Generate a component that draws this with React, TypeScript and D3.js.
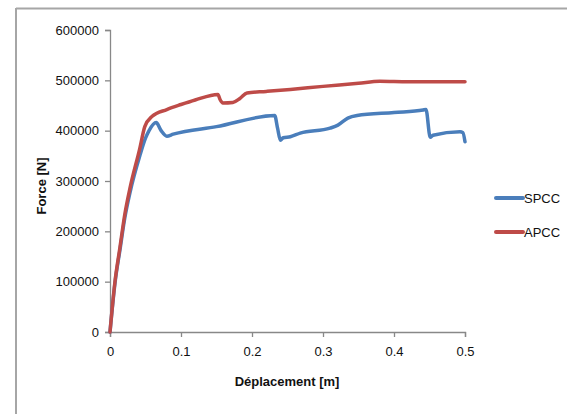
import React, { useEffect, useRef } from 'react';
import * as d3 from 'd3';

// displacement [m], force [N]
const spccX = [0, 0.007, 0.014, 0.021, 0.028, 0.042, 0.05, 0.055, 0.065, 0.072, 0.08, 0.089, 0.15, 0.232, 0.236, 0.24, 0.244, 0.254, 0.268, 0.31, 0.321, 0.335, 0.348, 0.4, 0.441, 0.445, 0.451, 0.455, 0.493, 0.497, 0.5];
const spccY = [0, 97000, 163000, 228000, 276000, 350000, 385000, 400000, 416000, 400000, 389000, 393000, 408000, 430000, 405000, 381000, 386000, 388000, 395000, 405000, 411000, 425000, 430000, 436000, 441000, 442000, 387000, 391000, 398000, 396000, 378000];
const apccX = [0, 0.007, 0.014, 0.021, 0.028, 0.042, 0.049, 0.059, 0.08, 0.1, 0.12, 0.152, 0.155, 0.159, 0.173, 0.183, 0.193, 0.22, 0.254, 0.3, 0.35, 0.38, 0.42, 0.46, 0.5];
const apccY = [0, 100000, 168000, 235000, 285000, 365000, 408000, 428000, 442000, 452000, 461000, 472000, 462000, 455000, 456000, 464000, 475000, 478000, 482000, 488000, 494000, 498000, 497000, 497000, 497000];

const xTicks = [0, 0.1, 0.2, 0.3, 0.4, 0.5];
const yTicks = [0, 100000, 200000, 300000, 400000, 500000, 600000];
const seriesNames = ['SPCC', 'APCC'];
const seriesColors = ['#4a7ebb', '#be4b48'];

const App = () => {
  const svgRef = useRef<SVGSVGElement>(null);

  useEffect(() => {
    const svg = d3.select(svgRef.current);
    svg.selectAll('*').remove();
    const font = '"Liberation Sans", Arial, sans-serif';

    const x = d3.scaleLinear().domain([0, 0.5]).range([110, 465]);
    const y = d3.scaleLinear().domain([0, 600000]).range([332, 30]);

    // chart area frame (only top and left visible)
    svg.append('line').attr('x1', 16).attr('x2', 567).attr('y1', 8.5).attr('y2', 8.5)
      .attr('stroke', '#a6a6a6').attr('stroke-width', 2);
    svg.append('line').attr('x1', 16).attr('x2', 16).attr('y1', 8).attr('y2', 414)
      .attr('stroke', '#a6a6a6').attr('stroke-width', 2);

    const xAxis = svg.append('g').attr('transform', 'translate(0,332)')
      .call(d3.axisBottom(x).tickValues(xTicks).tickFormat(d => String(d)).tickSize(5).tickPadding(10));
    const yAxis = svg.append('g').attr('transform', 'translate(110,0)')
      .call(d3.axisLeft(y).tickValues(yTicks).tickFormat(d => String(d)).tickSize(5).tickPadding(6));
    [xAxis, yAxis].forEach(g => {
      g.select('.domain').attr('stroke', '#888').attr('stroke-width', 1.3);
      g.selectAll('.tick line').attr('stroke', '#888').attr('stroke-width', 1.3);
      g.selectAll('.tick text').attr('fill', '#111').style('font-family', font).style('font-size', '13px');
    });

    const line = d3.line<[number, number]>().x(d => x(d[0])).y(d => y(d[1])).curve(d3.curveMonotoneX);
    const series = [
      d3.zip(spccX, spccY) as [number, number][],
      d3.zip(apccX, apccY) as [number, number][],
    ];
    series.forEach((pts, i) => {
      svg.append('path').datum(pts).attr('d', line).attr('fill', 'none')
        .attr('stroke', seriesColors[i]).attr('stroke-width', 3.5)
        .attr('stroke-linejoin', 'round').attr('stroke-linecap', 'round');
    });

    // legend
    seriesNames.forEach((name, i) => {
      const ly = 198 + i * 34;
      svg.append('line').attr('x1', 496).attr('x2', 523).attr('y1', ly).attr('y2', ly)
        .attr('stroke', seriesColors[i]).attr('stroke-width', 4).attr('stroke-linecap', 'round');
      svg.append('text').attr('x', 524).attr('y', ly + 5).text(name)
        .attr('fill', '#111').style('font-family', font).style('font-size', '13px');
    });

    svg.append('text').attr('x', 287).attr('y', 386).attr('text-anchor', 'middle')
      .text('Déplacement [m]').attr('fill', '#111')
      .style('font-family', font).style('font-size', '13px').style('font-weight', 'bold');
    svg.append('text').attr('transform', 'translate(46,186) rotate(-90)').attr('text-anchor', 'middle')
      .text('Force [N]').attr('fill', '#111')
      .style('font-family', font).style('font-size', '13px').style('font-weight', 'bold');
  }, []);

  return (
    <div style={{ position: 'fixed', left: 0, top: 0, width: 567, height: 414, background: '#fff' }}>
      <svg ref={svgRef} width={567} height={414} style={{ display: 'block' }} />
    </div>
  );
};

export default App;
